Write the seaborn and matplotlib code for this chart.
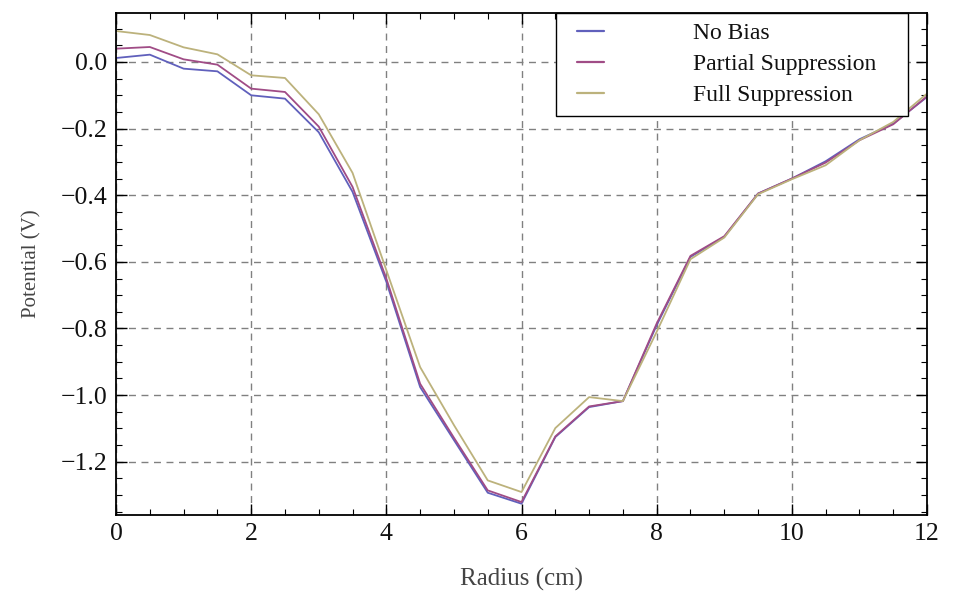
import matplotlib
matplotlib.use("Agg")
import matplotlib.pyplot as plt
from matplotlib.ticker import MultipleLocator, FuncFormatter
from matplotlib.legend_handler import HandlerLine2D
import numpy as np
import pandas as pd
import seaborn as sns

# Radial potential profiles for three bias settings
radius = [0.0, 0.5, 1.0, 1.5, 2.0, 2.5, 3.0, 3.5, 4.0, 4.5, 5.0, 5.5, 6.0,
          6.5, 7.0, 7.5, 8.0, 8.5, 9.0, 9.5, 10.0, 10.5, 11.0, 11.5, 12.0]

no_bias = [0.012, 0.022, -0.020, -0.028, -0.100, -0.110, -0.211, -0.390,
           -0.660, -0.976, -1.135, -1.293, -1.326, -1.126, -1.036, -1.018,
           -0.790, -0.585, -0.525, -0.395, -0.350, -0.298, -0.232, -0.185,
           -0.105]

partial_suppression = [0.040, 0.045, 0.008, -0.008, -0.080, -0.090, -0.194,
                       -0.375, -0.650, -0.966, -1.128, -1.286, -1.321, -1.124,
                       -1.034, -1.018, -0.785, -0.582, -0.523, -0.395, -0.350,
                       -0.302, -0.235, -0.187, -0.103]

full_suppression = [0.093, 0.081, 0.044, 0.023, -0.040, -0.048, -0.157,
                    -0.333, -0.625, -0.916, -1.090, -1.256, -1.291, -1.099,
                    -1.006, -1.018, -0.810, -0.592, -0.527, -0.397, -0.352,
                    -0.310, -0.235, -0.180, -0.095]

series_names = ["No Bias", "Partial Suppression", "Full Suppression"]
series_colors = ["#6060bc", "#a04c86", "#bcb27c"]

df = pd.concat([
    pd.DataFrame({"Radius": radius, "Potential": vals, "Series": name})
    for name, vals in zip(series_names, [no_bias, partial_suppression, full_suppression])
], ignore_index=True)

sns.set_style("ticks")
plt.rcParams["font.family"] = ["Liberation Serif", "DejaVu Serif"]
plt.rcParams["axes.unicode_minus"] = True

fig = plt.figure(figsize=(9.55, 5.92), dpi=100)
ax = fig.add_axes([0.1215, 0.130, 0.8492, 0.848])

sns.lineplot(data=df, x="Radius", y="Potential", hue="Series",
             hue_order=series_names, palette=dict(zip(series_names, series_colors)),
             linewidth=1.3, ax=ax, legend=False, sort=False)

ax.set_xlim(0, 12)
ax.set_ylim(-1.36, 0.147)

ax.xaxis.set_major_locator(MultipleLocator(2))
ax.xaxis.set_minor_locator(MultipleLocator(0.5))
ax.yaxis.set_major_locator(MultipleLocator(0.2))
ax.yaxis.set_minor_locator(MultipleLocator(0.05))
ax.yaxis.set_major_formatter(FuncFormatter(
    lambda v, p: f"{v:.1f}".replace("-", "\u2212") if abs(v) > 1e-9 else "0.0"))
ax.xaxis.set_major_formatter(FuncFormatter(lambda v, p: f"{v:.0f}"))

ax.tick_params(which="both", direction="in", top=True, right=True,
               color="black", labelsize=18.5, labelcolor="#111111")
ax.tick_params(which="major", length=8, width=1.0, pad=6)
ax.tick_params(which="minor", length=4, width=0.8)

for s in ax.spines.values():
    s.set_color("black")
    s.set_linewidth(1.3)

ax.grid(True, which="major", color="#808080", linestyle=(0, (5, 4)), linewidth=1.0)

ax.set_xlabel("Radius (cm)", fontsize=18, color="#444444", labelpad=16)
ax.set_ylabel("Potential (V)", fontsize=15, color="#444444", labelpad=14)


class InsetLine(HandlerLine2D):
    """Legend line drawn over the right part of its handle box."""
    def get_xdata(self, legend, xdescent, ydescent, width, height, fontsize):
        x = np.array([-xdescent + 0.3 * width, -xdescent + width])
        return x, x


handles = [plt.Line2D([], [], color=c, linewidth=1.6) for c in series_colors]
leg = ax.legend(handles, series_names, loc="upper left", mode="expand",
                bbox_to_anchor=(556 / 955, 1 - 112 / 592, 352 / 955, 99 / 592),
                bbox_transform=fig.transFigure,
                handler_map={plt.Line2D: InsetLine()},
                fontsize=17, frameon=True, fancybox=False, framealpha=1.0,
                borderpad=0.42, handlelength=1.62, handletextpad=3.75,
                labelspacing=0.4, borderaxespad=0.0)
leg.get_frame().set_edgecolor("black")
leg.get_frame().set_linewidth(1.0)
for t in leg.get_texts():
    t.set_color("#111111")

fig.savefig("out.png", dpi=100)
